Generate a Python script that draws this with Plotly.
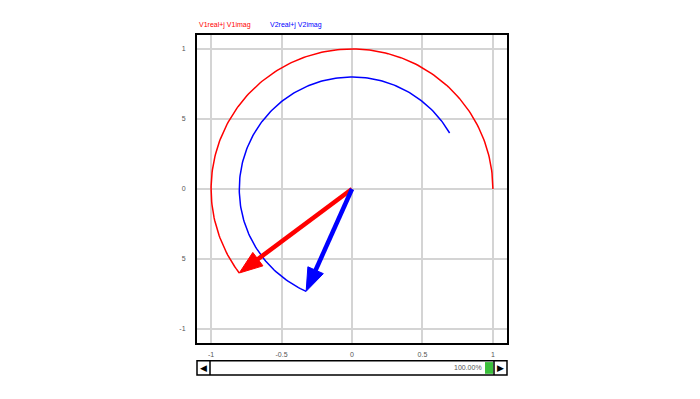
import numpy as np
import plotly.graph_objects as go

# Phasor data
v1_mag = 1.0
v1_phase_start = 0.0      # degrees
v1_phase_end = 216.87     # degrees
v2_mag = 0.8
v2_phase_start = 30.0
v2_phase_end = 246.0

tick_vals = [-1, -0.5, 0, 0.5, 1]
x_tick_text = ["-1", "-0.5", "0", "0.5", "1"]
y_tick_text = ["-1", "5", "0", "5", "1"]
legend_labels = ["V1real+j V1imag", "V2real+j V2imag"]
slider_label = "100.00%"

RED = "#ff0000"
BLUE = "#0000ff"


def arc(mag, a0, a1):
    t = np.radians(np.linspace(a0, a1, 200))
    return mag * np.cos(t), mag * np.sin(t)


fig = go.Figure()
x1, y1 = arc(v1_mag, v1_phase_start, v1_phase_end)
x2, y2 = arc(v2_mag, v2_phase_start, v2_phase_end)
fig.add_trace(go.Scatter(x=x1, y=y1, mode="lines", line=dict(color=RED, width=1.5),
                         hoverinfo="skip", showlegend=False))
fig.add_trace(go.Scatter(x=x2, y=y2, mode="lines", line=dict(color=BLUE, width=1.5),
                         hoverinfo="skip", showlegend=False))

HEAD_L = 0.165
HEAD_HW = 0.06


def add_arrow(mag, phase, col):
    a = np.radians(phase)
    ux, uy = np.cos(a), np.sin(a)
    tx, ty = mag * ux, mag * uy
    bx, by = tx - HEAD_L * ux, ty - HEAD_L * uy
    px, py = -uy, ux
    fig.add_trace(go.Scatter(x=[0, bx + 0.01 * ux], y=[0, by + 0.01 * uy], mode="lines",
                             line=dict(color=col, width=4.5), hoverinfo="skip", showlegend=False))
    fig.add_trace(go.Scatter(x=[tx, bx + HEAD_HW * px, bx - HEAD_HW * px, tx],
                             y=[ty, by + HEAD_HW * py, by - HEAD_HW * py, ty],
                             mode="lines", fill="toself", fillcolor=col,
                             line=dict(color=col, width=1), hoverinfo="skip", showlegend=False))


add_arrow(v1_mag, v1_phase_end, RED)
add_arrow(v2_mag, v2_phase_end, BLUE)

# legend-like labels
fig.add_annotation(x=0.0, y=1.032, xref="paper", yref="paper", xanchor="left", yanchor="middle",
                   text=legend_labels[0], showarrow=False,
                   font=dict(color=RED, size=7, family="Liberation Sans"))
fig.add_annotation(x=0.229, y=1.032, xref="paper", yref="paper", xanchor="left", yanchor="middle",
                   text=legend_labels[1], showarrow=False,
                   font=dict(color=BLUE, size=7, family="Liberation Sans"))

# slider below plot
sy0, sy1 = -0.104, -0.058
plot_w = 310.0
bw = 13 / plot_w
fig.add_shape(type="rect", xref="paper", yref="paper", x0=0, x1=1, y0=sy0, y1=sy1,
              line=dict(color="black", width=1.5), fillcolor="white")
fig.add_shape(type="line", xref="paper", yref="paper", x0=bw, x1=bw, y0=sy0, y1=sy1,
              line=dict(color="black", width=1.5))
fig.add_shape(type="line", xref="paper", yref="paper", x0=1 - bw, x1=1 - bw, y0=sy0, y1=sy1,
              line=dict(color="black", width=1.5))
fig.add_shape(type="rect", xref="paper", yref="paper", x0=1 - bw - 9 / plot_w, x1=1 - bw - 1 / plot_w,
              y0=sy0 + 0.004, y1=sy1 - 0.004, line=dict(width=0), fillcolor="#3cc03c")
ymid = (sy0 + sy1) / 2
fig.add_annotation(x=bw / 2, y=ymid, xref="paper", yref="paper", text="◀",
                   xanchor="center", yanchor="middle",
                   showarrow=False, font=dict(size=9, color="black"))
fig.add_annotation(x=1 - bw / 2, y=ymid, xref="paper", yref="paper", text="▶",
                   xanchor="center", yanchor="middle",
                   showarrow=False, font=dict(size=9, color="black"))
fig.add_annotation(x=1 - bw - 10 / plot_w, y=ymid, xref="paper", yref="paper",
                   xanchor="right", yanchor="middle", text=slider_label, showarrow=False,
                   font=dict(size=7, color="#555555", family="Liberation Sans"))

axis_common = dict(range=[-1.1, 1.1], tickvals=tick_vals, showgrid=True,
                   gridcolor="#d4d4d4", gridwidth=1.5, zeroline=False,
                   showline=True, linecolor="black", linewidth=2, mirror=True,
                   ticks="", tickfont=dict(size=7, color="#555555", family="Liberation Sans"),
                   fixedrange=True)

fig.update_layout(
    width=700, height=399,
    margin=dict(l=189, r=201, t=27, b=64),
    paper_bgcolor="white", plot_bgcolor="white",
    xaxis=dict(ticktext=x_tick_text, ticklabelstandoff=4, **axis_common),
    yaxis=dict(ticktext=y_tick_text, ticklabelstandoff=8, **axis_common),
    showlegend=False,
)

fig.write_html("out.html")
